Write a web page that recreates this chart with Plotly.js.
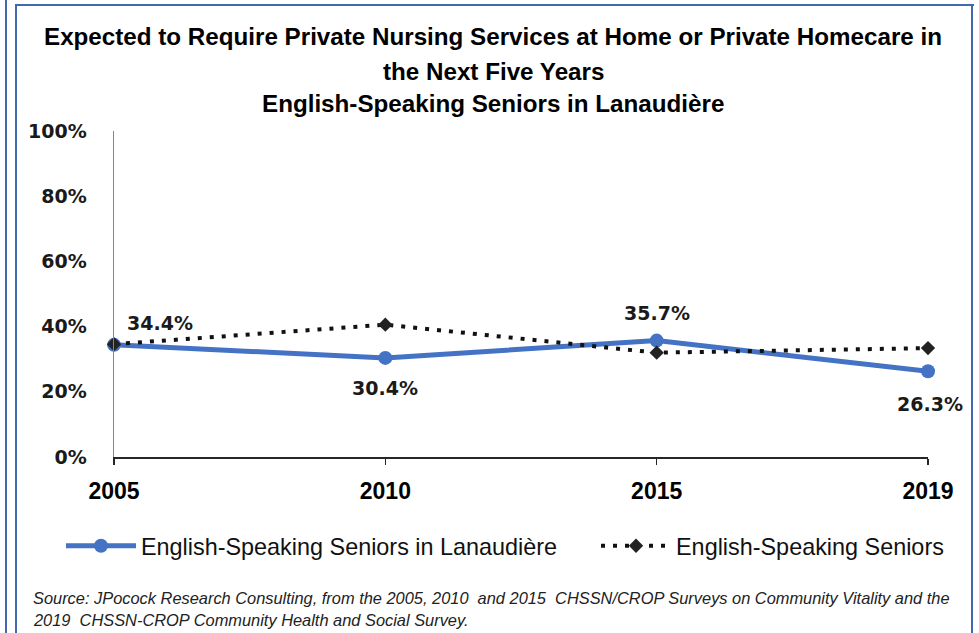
<!DOCTYPE html>
<html>
<head>
<meta charset="utf-8">
<script src="https://cdn.plot.ly/plotly-3.0.1.min.js"></script>
<style>
  html, body { margin: 0; padding: 0; background: #ffffff; }
  #wrap { position: relative; width: 979px; height: 633px; overflow: hidden; }
  #chart { position: absolute; left: 0; top: 0; width: 979px; height: 633px; }
  .frame { position: absolute; background: #4169b0; z-index: 5; }
</style>
</head>
<body>
<div id="wrap">
  <div id="chart"></div>
  <div class="frame" style="left:5px; top:0; width:2px; height:633px;"></div>
  <div class="frame" style="left:15px; top:4px; width:2px; height:629px;"></div>
  <div class="frame" style="left:15px; top:4px; width:959px; height:2px;"></div>
  <div class="frame" style="left:971px; top:4px; width:2px; height:629px;"></div>
</div>
<script>
// ---- data ----
const years = ['2005', '2010', '2015', '2019'];
const lanaudiere = [0.344, 0.304, 0.357, 0.263];
const allSeniors = [0.346, 0.406, 0.320, 0.334];
const seriesNames = ['English-Speaking Seniors in Lanaudière', 'English-Speaking Seniors'];
const yTicks = [0, 0.2, 0.4, 0.6, 0.8, 1.0];
const titleLines = [
  'Expected to Require Private Nursing Services at Home or Private Homecare in',
  'the Next Five Years',
  'English-Speaking Seniors in Lanaudière'
];
const sourceLines = [
  'Source: JPocock Research Consulting, from the 2005, 2010  and 2015  CHSSN/CROP Surveys on Community Vitality and the',
  '2019  CHSSN-CROP Community Health and Social Survey.'
];

// ---- layout config (positions/styles) ----
const blue = '#4472C4';
const labelShift = [[46, 22], [0, -30], [0, 28], [2, -33]]; // px offsets of data labels
const boldFont = 'Liberation Sans, Arial, sans-serif';
const numFont = 'DejaVu Sans, sans-serif';

const traces = [
  {
    x: years, y: lanaudiere, name: seriesNames[0], type: 'scatter', mode: 'lines+markers',
    line: { color: blue, width: 5 },
    marker: { color: blue, size: 14, symbol: 'circle' },
    legend: 'legend', cliponaxis: false
  },
  {
    x: years, y: allSeniors, name: seriesNames[1], type: 'scatter', mode: 'lines+markers',
    line: { color: '#111111', width: 4, dash: '4px,8px' },
    marker: { color: '#222222', size: 11, symbol: 'diamond' },
    legend: 'legend2', cliponaxis: false
  }
];

const annotations = [];
const titleY = [1.29, 1.183, 1.083];
titleLines.forEach((t, i) => annotations.push({
  text: '<b>' + t + '</b>', xref: 'paper', yref: 'paper', x: 0.466, y: titleY[i],
  xanchor: 'center', yanchor: 'middle', showarrow: false,
  font: { family: boldFont, size: 24.2, color: '#000' }
}));
lanaudiere.forEach((v, i) => annotations.push({
  text: '<b>' + (v * 100).toFixed(1) + '%</b>', x: i, y: v, xref: 'x', yref: 'y',
  showarrow: false, xanchor: 'center', yanchor: 'middle',
  xshift: labelShift[i][0], yshift: labelShift[i][1],
  font: { family: numFont, size: 19, color: '#1a1a1a' }
}));
const srcY = [-0.433, -0.5];
sourceLines.forEach((t, i) => annotations.push({
  text: '<i>' + t + '</i>', xref: 'paper', yref: 'paper', x: -0.1021, y: srcY[i],
  xanchor: 'left', yanchor: 'middle', showarrow: false,
  font: { family: 'Liberation Sans, Arial, sans-serif', size: 16.4, color: '#222' }
}));

const legendFont = { family: 'Liberation Sans, Arial, sans-serif', size: 23.4, color: '#111' };
const layout = {
  width: 979, height: 633,
  margin: { l: 114, r: 51, t: 131, b: 176, autoexpand: false },
  paper_bgcolor: '#ffffff', plot_bgcolor: '#ffffff',
  showlegend: true,
  xaxis: {
    type: 'category', range: [0, 3], showgrid: false, zeroline: false,
    showline: true, linecolor: '#262626', linewidth: 1.5,
    ticks: 'outside', ticklen: 6, tickcolor: '#262626', tickwidth: 1.5,
    ticklabelstandoff: 7,
    tickfont: { family: boldFont, size: 23, color: '#000', weight: 'bold' }
  },
  yaxis: {
    range: [0, 1], tickvals: yTicks, tickformat: '.0%', showgrid: false, zeroline: false,
    showline: true, linecolor: '#868686', linewidth: 1.5, ticks: '',
    ticklabelstandoff: 22,
    tickfont: { family: numFont, size: 19, color: '#1a1a1a', weight: 'bold' }
  },
  legend: {
    xref: 'container', yref: 'container',
    x: 0.0623, y: 0.1374, xanchor: 'left', yanchor: 'middle', orientation: 'h',
    itemwidth: 70,
    bgcolor: 'rgba(0,0,0,0)', font: legendFont
  },
  legend2: {
    xref: 'container', yref: 'container',
    x: 0.6088, y: 0.1374, xanchor: 'left', yanchor: 'middle', orientation: 'h',
    itemwidth: 70,
    bgcolor: 'rgba(0,0,0,0)', font: legendFont
  },
  annotations: annotations
};

Plotly.newPlot('chart', traces, layout, { displayModeBar: false, staticPlot: true });
</script>
</body>
</html>
